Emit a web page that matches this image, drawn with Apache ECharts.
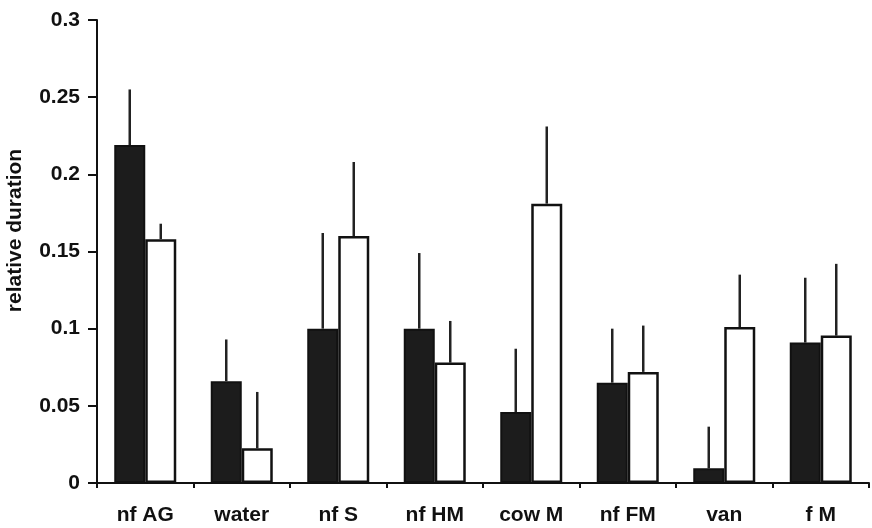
<!DOCTYPE html>
<html><head><meta charset="utf-8">
<script src="https://cdn.jsdelivr.net/npm/echarts@6/dist/echarts.min.js"></script>
<style>html,body{margin:0;padding:0;background:#fff}#c{width:872px;height:528px}</style>
</head><body><div id="c"></div>
<script>
var categories = ['nf AG', 'water', 'nf S', 'nf HM', 'cow M', 'nf FM', 'van', 'f M'];
var blackValues = [0.219, 0.066, 0.100, 0.100, 0.046, 0.065, 0.0095, 0.091];
var blackErrTop = [0.255, 0.093, 0.162, 0.149, 0.087, 0.100, 0.0365, 0.133];
var whiteValues = [0.158, 0.0225, 0.160, 0.078, 0.181, 0.072, 0.101, 0.0955];
var whiteErrTop = [0.168, 0.059, 0.208, 0.105, 0.231, 0.102, 0.135, 0.142];

var chart = echarts.init(document.getElementById('c'));
var BW = 31;
function errSeries(vals, tops, offset) {
  return {
    type: 'custom',
    z: 1,
    data: vals.map(function (v, i) { return [i, v, tops[i]]; }),
    renderItem: function (params, api) {
      var p1 = api.coord([api.value(0), api.value(1)]);
      var p2 = api.coord([api.value(0), api.value(2)]);
      return {
        type: 'line',
        shape: { x1: p1[0] + offset, y1: p1[1], x2: p2[0] + offset, y2: p2[1] },
        style: { stroke: '#222', lineWidth: 2.5 }
      };
    }
  };
}
chart.setOption({
  animation: false,
  grid: { left: 97, right: 3, top: 20, bottom: 45, containLabel: false, outerBoundsMode: 'none' },
  xAxis: {
    type: 'category',
    data: categories,
    axisLine: { lineStyle: { color: '#111', width: 2 } },
    axisTick: { show: true, length: 5, lineStyle: { color: '#111', width: 2 } },
    axisLabel: { color: '#111', fontFamily: 'Liberation Sans', fontWeight: 'bold', fontSize: 21, margin: 22 }
  },
  yAxis: {
    type: 'value',
    min: 0, max: 0.3, interval: 0.05,
    name: 'relative duration',
    nameLocation: 'middle',
    nameGap: 71,
    nameTextStyle: { color: '#111', fontFamily: 'Liberation Sans', fontWeight: 'bold', fontSize: 21, padding: [0, 0, 0, 42] },
    splitLine: { show: false },
    axisLine: { show: true, lineStyle: { color: '#111', width: 2 } },
    axisTick: { show: true, length: 9, lineStyle: { color: '#111', width: 2 } },
    axisLabel: { color: '#111', fontFamily: 'Liberation Sans', fontWeight: 'bold', fontSize: 21, margin: 17 }
  },
  series: [
    { type: 'bar', data: blackValues, barWidth: BW, barGap: '0%', z: 2,
      itemStyle: { color: '#1c1c1c', borderColor: '#111', borderWidth: 2 } },
    { type: 'bar', data: whiteValues, barWidth: BW, barGap: '0%', z: 2,
      itemStyle: { color: '#ffffff', borderColor: '#111', borderWidth: 2.5 } },
    errSeries(blackValues, blackErrTop, -BW / 2),
    errSeries(whiteValues, whiteErrTop, BW / 2)
  ]
});
</script></body></html>
